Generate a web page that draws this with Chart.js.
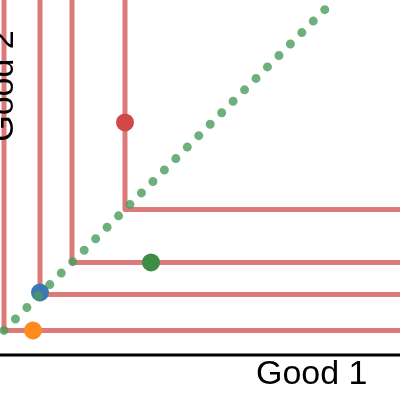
<!DOCTYPE html>
<html lang="en">
<head>
  <meta charset="UTF-8" />
  <title>Indifference curves</title>
  <style>
    body {
      margin: 0;
      background: #fff;
    }
    #wrap {
      width: 400px;
      height: 400px;
    }
  </style>
</head>
<body>
  <div id="wrap"><canvas id="chart" width="400" height="400"></canvas></div>

  <script src="https://cdn.jsdelivr.net/npm/chart.js"></script>
  <script>
    // corner of each L-shaped indifference curve (x = y)
    const cornerLevels = [1, 10, 18, 31.25];
    // dotted expansion path along y = x
    const pathX = [1, 81.5];
    const pathY = [1, 81.5];
    // consumption bundles
    const bundleX = [8.25, 10, 37.75, 31.25];
    const bundleY = [1, 10.5, 18, 53];
    const bundleColors = ['#ff8a1e', '#3b78b4', '#3f8c45', '#d04848'];
    const xLabel = 'Good 1';
    const yLabel = 'Good 2';

    const xMin = 0, xMax = 100, yMin = -4.9, yMax = 83.6;

    const curveSets = cornerLevels.map(c => ({
      data: [{ x: c, y: yMax + 5 }, { x: c, y: c }, { x: xMax + 5, y: c }],
      showLine: true,
      borderColor: '#dc7a7a',
      borderWidth: 5,
      borderJoinStyle: 'round',
      pointRadius: 0,
      order: 2
    }));

    const axisDecor = {
      id: 'axisDecor',
      afterDraw(chart) {
        const ctx = chart.ctx;
        ctx.save();
        ctx.strokeStyle = '#000';
        ctx.lineWidth = 3;
        ctx.beginPath();
        ctx.moveTo(0, 355);
        ctx.lineTo(400, 355);
        ctx.stroke();

        ctx.fillStyle = '#000';
        ctx.font = '34px "Liberation Sans", Arial, sans-serif';
        ctx.textBaseline = 'alphabetic';
        ctx.textAlign = 'left';
        ctx.fillText(xLabel, 256, 384);

        ctx.translate(13, 86);
        ctx.rotate(-Math.PI / 2);
        ctx.textAlign = 'center';
        ctx.fillText(yLabel, 0, 0);
        ctx.restore();
      }
    };

    new Chart(document.getElementById('chart'), {
      type: 'scatter',
      data: {
        datasets: [
          {
            data: pathX.map((x, i) => ({ x, y: pathY[i] })),
            showLine: true,
            borderColor: 'rgba(75, 155, 90, 0.8)',
            borderWidth: 9,
            borderDash: [0, 16.2],
            borderCapStyle: 'round',
            pointRadius: 0,
            order: 0
          },
          {
            data: bundleX.map((x, i) => ({ x, y: bundleY[i] })),
            showLine: false,
            pointRadius: 9,
            pointBorderWidth: 0,
            pointBackgroundColor: bundleColors,
            order: 1
          },
          ...curveSets
        ]
      },
      options: {
        responsive: false,
        animation: false,
        devicePixelRatio: 1,
        layout: { autoPadding: false, padding: { left: 0, right: 0, top: 0, bottom: 46 } },
        plugins: {
          legend: { display: false },
          tooltip: { enabled: false }
        },
        scales: {
          x: { type: 'linear', min: xMin, max: xMax, display: false },
          y: { type: 'linear', min: yMin, max: yMax, display: false }
        }
      },
      plugins: [axisDecor]
    });
  </script>
</body>
</html>
